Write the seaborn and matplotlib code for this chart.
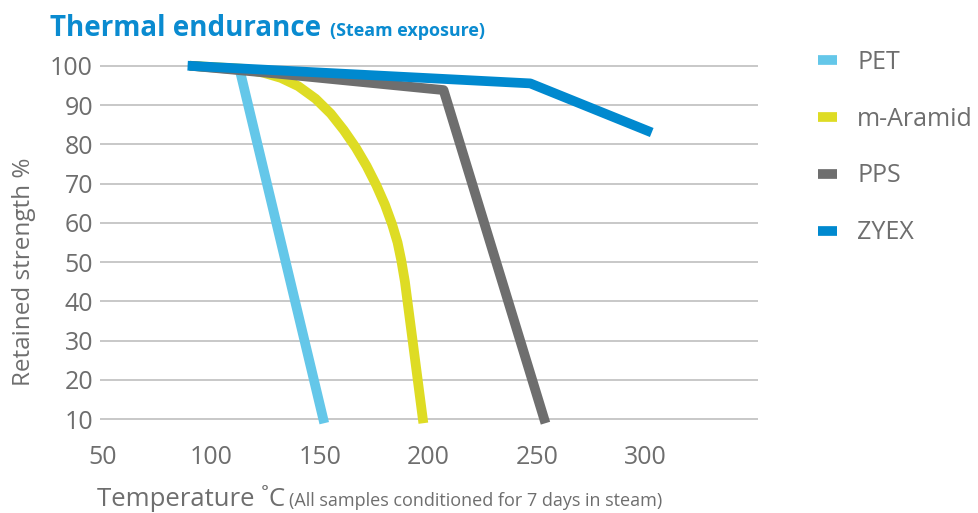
import numpy as np
import matplotlib
matplotlib.use("Agg")
import matplotlib.pyplot as plt
import pandas as pd
import seaborn as sns

# values
materials = ["PET", "m-Aramid", "PPS", "ZYEX"]

pet_temp = [90, 113, 152]
pet_strength = [100, 99, 9]

aramid_temp = [90, 115, 124, 132, 140, 148, 155, 161, 166.5, 171.5, 176,
               180, 183.3, 185.8, 187.5, 189.2, 197.7]
aramid_strength = [100, 99.2, 98.2, 96.9, 94.8, 91.6, 87.8, 83.6, 79.2, 74.5,
                   69.6, 64.6, 59.6, 55, 50.5, 45, 9]

pps_temp = [90, 130, 207, 254]
pps_strength = [100, 98, 93.8, 9]

zyex_temp = [89, 247, 303]
zyex_strength = [100, 95.5, 83]

x_ticks = [50, 100, 150, 200, 250, 300]
y_ticks = [10, 20, 30, 40, 50, 60, 70, 80, 90, 100]

colors = {"PET": "#64C7E9", "m-Aramid": "#DEDC24", "PPS": "#6E6E6E", "ZYEX": "#0089CF"}
grey_text = "#6E6E6E"
title_blue = "#0A8BD0"

W, H = 979, 513


def text_after(fig, first, gap_px, s, **kw):
    # put a second text right after the first, on the same baseline
    fig.canvas.draw()
    bb = first.get_window_extent()
    x0, y0 = first.get_position()
    return fig.text((bb.x1 + gap_px) / W, y0, s, va="baseline", **kw)


if __name__ == "__main__":
    frames = []
    for name, t, s in [("PET", pet_temp, pet_strength),
                       ("m-Aramid", aramid_temp, aramid_strength),
                       ("PPS", pps_temp, pps_strength),
                       ("ZYEX", zyex_temp, zyex_strength)]:
        frames.append(pd.DataFrame({"temp": t, "strength": s, "material": name}))
    df = pd.concat(frames, ignore_index=True)

    sns.set_style("white")
    plt.rcParams["font.family"] = ["Open Sans", "DejaVu Sans"]

    fig = plt.figure(figsize=(W / 100, H / 100), dpi=100)
    ax = fig.add_axes([100 / W, 1 - 438.9 / H, 658 / W, 383 / H])

    sns.lineplot(data=df, x="temp", y="strength", hue="material",
                 hue_order=materials, palette=colors, sort=False,
                 estimator=None, linewidth=7, ax=ax,
                 solid_capstyle="butt", solid_joinstyle="round")

    ax.set_xlim(48.6, 352)
    ax.set_ylim(5, 102.5)
    ax.set_xticks(x_ticks)
    ax.set_yticks(y_ticks)
    ax.yaxis.grid(True, color="#C4C4C4", linewidth=1.3)
    ax.set_axisbelow(True)
    ax.tick_params(axis="both", length=0, labelsize=18, colors=grey_text)
    ax.tick_params(axis="y", pad=5)
    ax.tick_params(axis="x", pad=4.6)
    for sp in ax.spines.values():
        sp.set_visible(False)

    ax.set_xlabel("")
    ax.set_ylabel("Retained strength %", fontsize=17.5, color=grey_text)
    ax.yaxis.set_label_coords(-0.098, 0.436)

    # legend on the right
    handles, labels = ax.get_legend_handles_labels()
    leg = ax.legend(handles, labels, loc="upper left",
                    bbox_to_anchor=(818 / W, 1 - 50 / H),
                    bbox_transform=fig.transFigure, frameon=False,
                    fontsize=18, handlelength=0.76, handletextpad=0.8,
                    labelspacing=1.27, borderpad=0, borderaxespad=0)
    for txt in leg.get_texts():
        txt.set_color(grey_text)

    # title
    t1 = fig.text(50 / W, 1 - 35.5 / H, "Thermal endurance", fontsize=20,
                  fontweight="bold", color=title_blue, va="baseline")
    text_after(fig, t1, 9, "(Steam exposure)", fontsize=12.9,
               fontweight="bold", color=title_blue)

    # x axis label
    x1 = fig.text(97 / W, 1 - 505.5 / H, "Temperature \u02daC", fontsize=18.5,
                  color=grey_text, va="baseline")
    text_after(fig, x1, 4, "(All samples conditioned for 7 days in steam)",
               fontsize=13, color=grey_text)

    fig.savefig("out.png", dpi=100)
